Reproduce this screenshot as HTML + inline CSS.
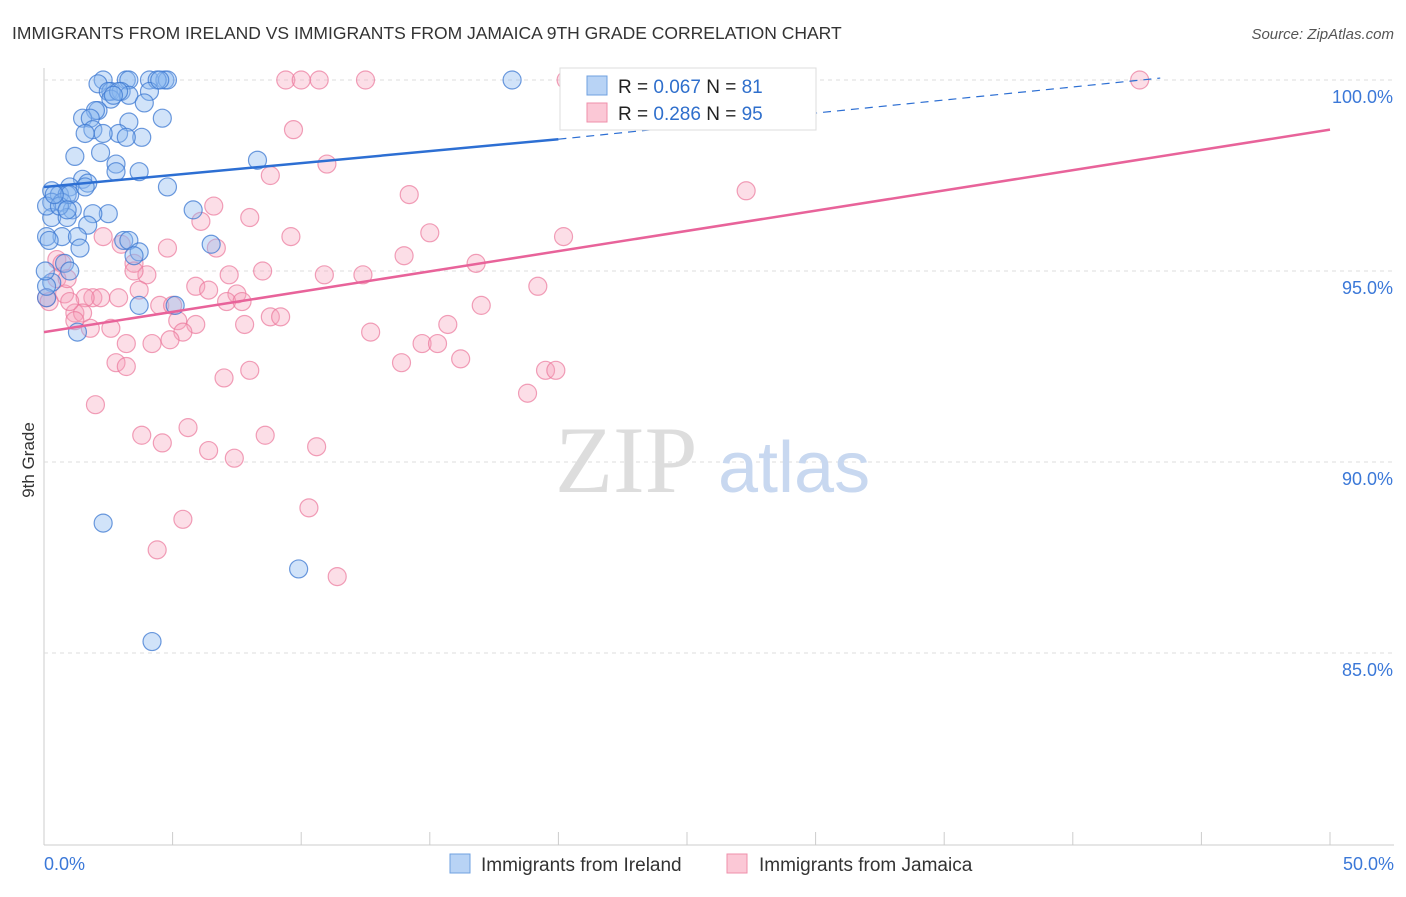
<!DOCTYPE html>
<html><head><meta charset="utf-8"><style>
body{margin:0;background:#fff;font-family:"Liberation Sans",sans-serif}
</style></head><body>
<svg id="chart" width="1406" height="892" xmlns="http://www.w3.org/2000/svg">
<text x="12" y="39" font-size="17.5" fill="#333">IMMIGRANTS FROM IRELAND VS IMMIGRANTS FROM JAMAICA 9TH GRADE CORRELATION CHART</text>
<text x="1394" y="39" font-size="15" fill="#555" font-style="italic" text-anchor="end">Source: ZipAtlas.com</text>
<text x="34" y="460" font-size="17" fill="#333" transform="rotate(-90 34 460)" text-anchor="middle">9th Grade</text>
<g id="grid"></g>
<text x="555" y="492" font-size="95" fill="#ddd" font-family="Liberation Serif">ZIP</text>
<text x="718" y="492" font-size="72" fill="#c8d8f0">atlas</text>
<g id="pts"></g>
<g id="lines"></g>
<g>
<rect x="560" y="68" width="256" height="62" fill="#fff" stroke="#ddd"/>
<rect x="587" y="76" width="20" height="19" fill="#b8d3f5" stroke="#6fa0e0"/>
<rect x="587" y="103" width="20" height="19" fill="#fbc8d6" stroke="#ef8fab"/>
<text x="618" y="93" font-size="19" fill="#222">R = <tspan fill="#2f6fcc">0.067</tspan>   N =  <tspan fill="#2f6fcc">81</tspan></text>
<text x="618" y="120" font-size="19" fill="#222">R = <tspan fill="#2f6fcc">0.286</tspan>   N = <tspan fill="#2f6fcc">95</tspan></text>
</g>
<g>
<rect x="450" y="854" width="20" height="19" fill="#b8d3f5" stroke="#6fa0e0"/>
<text x="481" y="871" font-size="19" fill="#333">Immigrants from Ireland</text>
<rect x="727" y="854" width="20" height="19" fill="#fbc8d6" stroke="#ef8fab"/>
<text x="759" y="871" font-size="19" fill="#333">Immigrants from Jamaica</text>
</g>
</svg>
<script>
const yTicks=[100,95,90,85];
const xTickLabels=["0.0%","50.0%"];
const blueX=[2.3,3.2,4.1,4.7,4.8,3.3,4.4,18.2,2.1,2.6,2.5,3.0,4.1,3.3,2.6,3.9,2.1,2.0,1.5,1.8,4.6,3.3,1.9,2.9,2.3,1.6,3.8,3.2,2.2,1.2,8.3,2.8,3.7,2.8,1.5,1.7,4.8,1.0,0.3,0.6,0.9,0.3,0.7,1.1,5.8,2.5,1.9,0.3,0.9,1.7,0.7,1.3,3.1,3.3,6.5,1.4,3.7,3.5,0.8,1.0,0.3,5.1,3.7,1.3,2.3,9.9,4.2,0.1,0.1,0.1,0.2,0.1,0.6,0.05,1.0,0.4,0.9,1.6,2.9,4.5,2.7];
const blueY=[100,100,100,100,100,100,100,100,99.9,99.7,99.7,99.7,99.7,99.6,99.5,99.4,99.2,99.2,99.0,99.0,99.0,98.9,98.7,98.6,98.6,98.6,98.5,98.5,98.1,98.0,97.9,97.8,97.6,97.6,97.4,97.3,97.2,97.2,97.1,97.0,97.0,96.8,96.8,96.6,96.6,96.5,96.5,96.4,96.4,96.2,95.9,95.9,95.8,95.8,95.7,95.6,95.5,95.4,95.2,95.0,94.7,94.1,94.1,93.4,88.4,87.2,85.3,94.3,95.9,96.7,95.8,94.6,96.7,95.0,97.0,97.0,96.6,97.2,99.7,100,99.6];
const pinkX=[9.4,10.0,10.7,12.5,20.3,25.8,42.6,9.7,11.0,8.8,14.2,27.3,6.6,8.0,6.1,9.6,15.0,20.2,2.3,3.0,6.7,4.8,14.0,0.5,3.5,0.7,16.8,4.0,3.5,8.5,10.9,12.4,7.2,19.2,5.9,6.4,3.7,0.8,7.5,0.5,0.9,1.9,2.2,1.6,2.9,7.1,7.7,17.0,4.5,5.0,1.2,1.5,1.2,8.8,9.2,5.2,5.9,1.8,2.6,7.8,15.7,12.7,5.4,3.2,4.2,4.9,14.7,15.3,16.2,13.9,2.8,3.2,19.5,19.9,8.0,7.0,18.8,2.0,3.8,5.6,4.6,8.6,6.4,7.4,10.6,5.4,10.3,4.4,11.4,0.1,0.2,1.0];
const pinkY=[100,100,100,100,100,100,100,98.7,97.8,97.5,97.0,97.1,96.7,96.4,96.3,95.9,96.0,95.9,95.9,95.7,95.6,95.6,95.4,95.3,95.2,95.2,95.2,94.9,95.0,95.0,94.9,94.9,94.9,94.6,94.6,94.5,94.5,94.4,94.4,94.8,94.8,94.3,94.3,94.3,94.3,94.2,94.2,94.1,94.1,94.1,93.9,93.9,93.7,93.8,93.8,93.7,93.6,93.5,93.5,93.6,93.6,93.4,93.4,93.1,93.1,93.2,93.1,93.1,92.7,92.6,92.6,92.5,92.4,92.4,92.4,92.2,91.8,91.5,90.7,90.9,90.5,90.7,90.3,90.1,90.4,88.5,88.8,87.7,87.0,94.3,94.2,94.2];
const blueTrend=[0,97.2,20,98.45,43.4,100.05];
const pinkTrend=[0,93.4,50,98.7];
const X0=44,X1=1330,Y100=80,PX=38.2;
const sx=v=>X0+(X1-X0)*v/50, sy=v=>Y100+(100-v)*PX;
const NS="http://www.w3.org/2000/svg";
function mk(t,a,p){const e=document.createElementNS(NS,t);for(const k in a)e.setAttribute(k,a[k]);p.appendChild(e);return e;}
const grid=document.getElementById('grid');
mk('line',{x1:X0,y1:68,x2:X0,y2:845,stroke:'#ccc'},grid);
mk('line',{x1:X0,y1:845,x2:1394,y2:845,stroke:'#ccc'},grid);
yTicks.forEach(t=>{
 const g=mk('line',{x1:X0,y1:sy(t),x2:1394,y2:sy(t),stroke:'#ddd','stroke-dasharray':'4,4'},grid);
 
 
 const l=mk('text',{x:1393,y:sy(t)+23,'font-size':18,fill:'#3b78d8','text-anchor':'end'},grid);
 l.textContent=t.toFixed(1)+'%';
 
 
});
for(let i=0;i<=10;i++){const x=sx(i*5);const t=mk('line',{x1:x,y1:832,x2:x,y2:845,stroke:'#ccc'},grid);
 
 }
[[0,'start',44],[50,'end',1394]].forEach((d,i)=>{const l=mk('text',{x:d[2],y:870,'font-size':18,fill:'#3b78d8','text-anchor':d[1]},grid);l.textContent=xTickLabels[i];
 
 });
const pts=document.getElementById('pts');
pinkX.forEach((x,i)=>{const c=mk('circle',{cx:sx(x),cy:sy(pinkY[i]),r:9,fill:'rgba(247,160,185,0.35)',stroke:'rgba(235,120,155,0.7)','stroke-width':1.2},pts);
 
 });
blueX.forEach((x,i)=>{const c=mk('circle',{cx:sx(x),cy:sy(blueY[i]),r:9,fill:'rgba(140,185,240,0.4)',stroke:'rgba(60,120,210,0.75)','stroke-width':1.2},pts);
 
 });
const ln=document.getElementById('lines');
let e=mk('line',{x1:sx(blueTrend[0]),y1:sy(blueTrend[1]),x2:sx(blueTrend[2]),y2:sy(blueTrend[3]),stroke:'#2d6fd3','stroke-width':2.5},ln);


e=mk('line',{x1:sx(blueTrend[2]),y1:sy(blueTrend[3]),x2:sx(blueTrend[4]),y2:sy(blueTrend[5]),stroke:'#2d6fd3','stroke-width':1.2,'stroke-dasharray':'8,6'},ln);


e=mk('line',{x1:sx(pinkTrend[0]),y1:sy(pinkTrend[1]),x2:sx(pinkTrend[2]),y2:sy(pinkTrend[3]),stroke:'#e8639a','stroke-width':2.5},ln);


</script>
</body></html>
